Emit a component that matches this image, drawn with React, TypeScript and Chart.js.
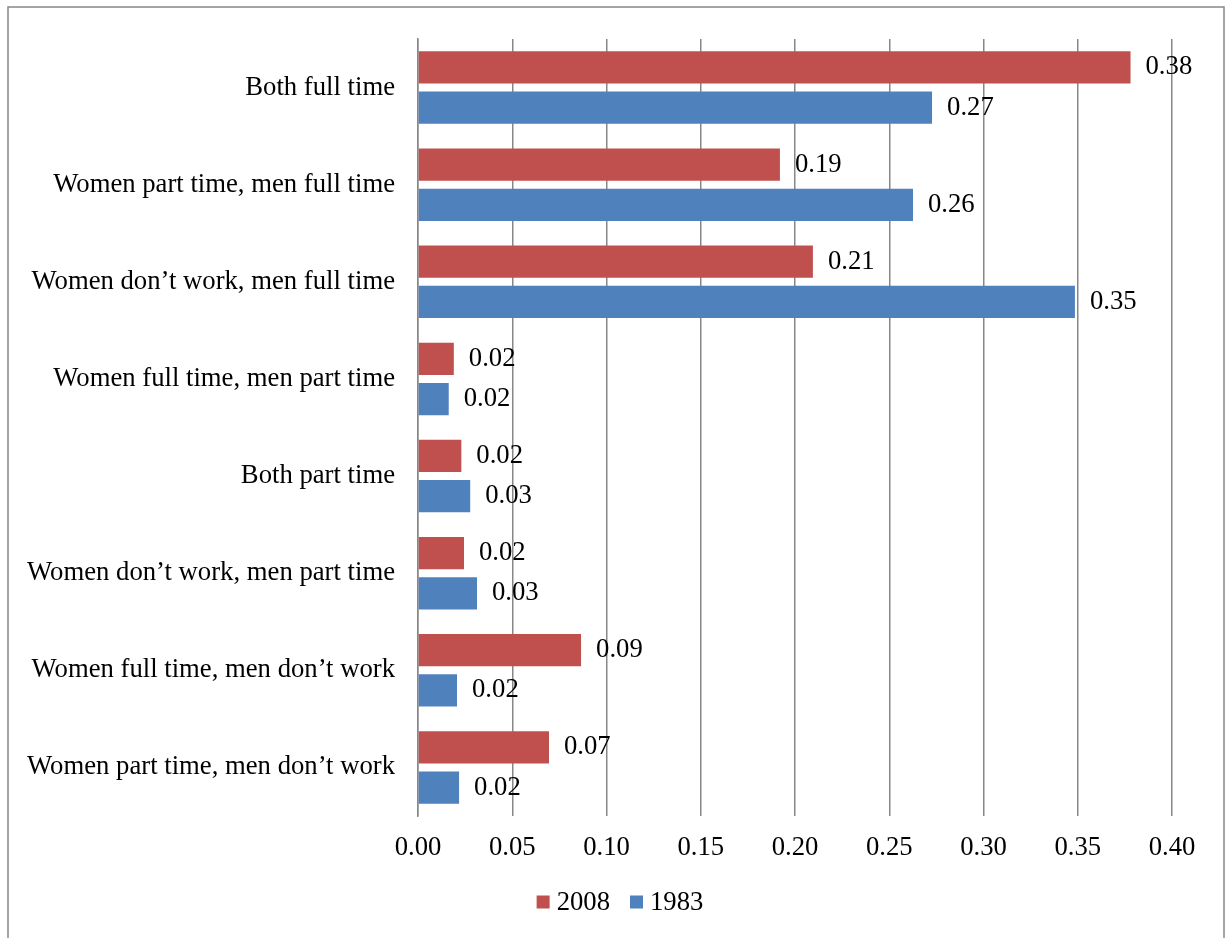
import React, { useEffect, useRef } from "react";
import { Chart, registerables } from "chart.js";

Chart.register(...registerables);

// Household work arrangements: share of couples, 2008 vs 1983
const categories = [
  "Both full time",
  "Women part time, men full time",
  "Women don\u2019t work, men full time",
  "Women full time, men part time",
  "Both part time",
  "Women don\u2019t work, men part time",
  "Women full time, men don\u2019t work",
  "Women part time, men don\u2019t work",
];

const series2008 = [0.378, 0.192, 0.2095, 0.019, 0.023, 0.0244, 0.0865, 0.0695];
const series1983 = [0.2727, 0.2626, 0.3485, 0.0163, 0.0277, 0.0313, 0.0207, 0.0218];

const seriesNames = ["2008", "1983"];
const seriesColors = ["#C0504D", "#4F81BD"];

const axisMin = 0;
const axisMax = 0.4;
const axisStep = 0.05;

const FONT = "'Liberation Serif', 'Times New Roman', serif";
const FONT_SIZE = 26.7;
const LINE_COLOR = "#878787";

// Outer frame drawn around the whole chart
const framePlugin = {
  id: "frame",
  beforeDraw(chart: any) {
    const ctx = chart.ctx;
    ctx.save();
    ctx.fillStyle = "#ffffff";
    ctx.fillRect(0, 0, chart.width, chart.height);
    ctx.strokeStyle = LINE_COLOR;
    ctx.lineWidth = 1.5;
    ctx.strokeRect(8, 7, 1216, chart.height + 20);
    ctx.restore();
  },
};

// Value labels to the right of each bar
const valueLabelPlugin = {
  id: "valueLabels",
  afterDatasetsDraw(chart: any) {
    const ctx = chart.ctx;
    ctx.save();
    ctx.font = `${FONT_SIZE}px ${FONT}`;
    ctx.fillStyle = "#000000";
    ctx.textAlign = "left";
    ctx.textBaseline = "middle";
    chart.data.datasets.forEach((ds: any, i: number) => {
      const meta = chart.getDatasetMeta(i);
      meta.data.forEach((el: any, j: number) => {
        const v = ds.data[j] as number;
        ctx.fillText(v.toFixed(2), el.x + 15, el.y);
      });
    });
    ctx.restore();
  },
};

// Compact legend centred under the plot
const legendPlugin = {
  id: "bottomLegend",
  afterDraw(chart: any) {
    const ctx = chart.ctx;
    ctx.save();
    ctx.font = `${FONT_SIZE}px ${FONT}`;
    ctx.textBaseline = "middle";
    ctx.textAlign = "left";
    const box = 13;
    const gapBoxText = 7;
    const gapItems = 20;
    const items = chart.data.datasets.map((ds: any) => ({
      label: ds.label as string,
      color: ds.backgroundColor as string,
      w: ctx.measureText(ds.label).width,
    }));
    const total =
      items.reduce((s: number, it: any) => s + box + gapBoxText + it.w, 0) +
      gapItems * (items.length - 1);
    const cy = 902;
    let x = 620 - total / 2;
    items.forEach((it: any) => {
      ctx.fillStyle = it.color;
      ctx.fillRect(x, cy - box / 2, box, box);
      ctx.fillStyle = "#000000";
      ctx.fillText(it.label, x + box + gapBoxText, cy + 1);
      x += box + gapBoxText + it.w + gapItems;
    });
    ctx.restore();
  },
};

export default function App() {
  const canvasRef = useRef<HTMLCanvasElement | null>(null);

  useEffect(() => {
    if (!canvasRef.current) return;
    const chart = new Chart(canvasRef.current, {
      type: "bar",
      data: {
        labels: categories,
        datasets: [
          {
            label: seriesNames[0],
            data: series2008,
            backgroundColor: seriesColors[0],
            borderWidth: 0,
            categoryPercentage: 0.829,
            barPercentage: 0.8,
          },
          {
            label: seriesNames[1],
            data: series1983,
            backgroundColor: seriesColors[1],
            borderWidth: 0,
            categoryPercentage: 0.829,
            barPercentage: 0.8,
          },
        ],
      },
      options: {
        indexAxis: "y",
        animation: false,
        responsive: false,
        maintainAspectRatio: false,
        devicePixelRatio: 1,
        layout: { padding: { top: 36, right: 55, left: 0, bottom: 0 } },
        plugins: {
          legend: { display: false },
          tooltip: { enabled: false },
        },
        scales: {
          x: {
            type: "linear",
            position: "bottom",
            min: axisMin,
            max: axisMax,
            afterFit(scale: any) {
              scale.height = 122;
            },
            ticks: {
              stepSize: axisStep,
              padding: 16,
              color: "#000000",
              font: { family: FONT, size: FONT_SIZE },
              maxRotation: 0,
              callback: (v: any) => Number(v).toFixed(2),
            },
            grid: {
              color: LINE_COLOR,
              lineWidth: 1.5,
              drawTicks: false,
            },
            border: { display: false },
          },
          y: {
            type: "category",
            position: "left",
            afterFit(scale: any) {
              scale.width = 418;
            },
            ticks: {
              padding: 23,
              color: "#000000",
              font: { family: FONT, size: FONT_SIZE },
              autoSkip: false,
            },
            grid: { display: false, drawTicks: false },
            border: { display: true, color: LINE_COLOR, width: 1.5 },
          },
        },
      },
      plugins: [framePlugin, valueLabelPlugin, legendPlugin],
    });
    return () => chart.destroy();
  }, []);

  return (
    <div style={{ position: "absolute", left: 0, top: 0, width: 1227, height: 938 }}>
      <canvas ref={canvasRef} width={1227} height={938} style={{ display: "block" }} />
    </div>
  );
}
